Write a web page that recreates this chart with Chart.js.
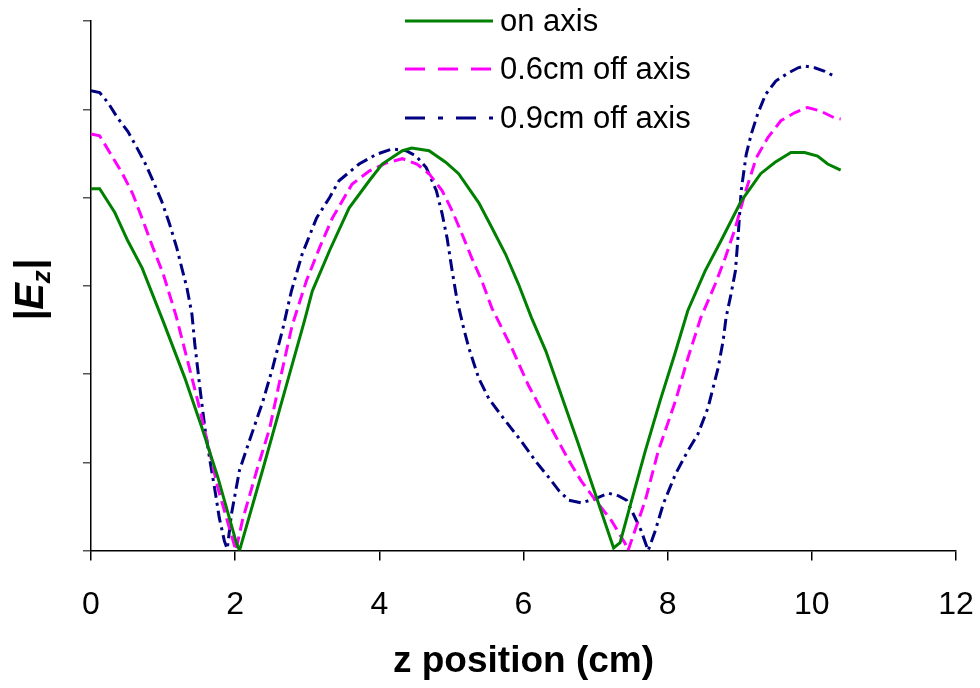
<!DOCTYPE html>
<html>
<head>
<meta charset="utf-8">
<script src="https://cdn.jsdelivr.net/npm/chart.js@4.4.1/dist/chart.umd.min.js"></script>
<style>
  body { margin: 0; background: #fff; }
  #wrap { width: 980px; height: 688px; }
</style>
</head>
<body>
<div id="wrap"><canvas id="chart" width="980" height="688"></canvas></div>
<script>
// === Data: z position (cm) and |Ez| (arbitrary units) ===
const zOnAxis = [0, 0.12, 0.33, 0.51, 0.71, 1.0, 1.3, 1.54, 1.76, 2.02, 2.06, 2.38, 2.61, 2.96, 3.07, 3.31, 3.58, 3.86, 4.04, 4.32, 4.45, 4.69, 4.92, 5.1, 5.38, 5.56, 5.75, 5.93, 6.11, 6.31, 6.76, 7.25, 7.34, 7.46, 7.69, 7.9, 8.1, 8.28, 8.52, 8.74, 9.02, 9.29, 9.49, 9.71, 9.9, 10.08, 10.22, 10.4];
const eOnAxis = [4.1, 4.1, 3.83, 3.51, 3.2, 2.6, 1.96, 1.39, 0.83, 0.08, 0.0, 0.91, 1.58, 2.6, 2.94, 3.4, 3.88, 4.19, 4.38, 4.53, 4.56, 4.53, 4.4, 4.27, 3.94, 3.66, 3.36, 3.02, 2.64, 2.26, 1.21, 0.03, 0.09, 0.45, 1.13, 1.71, 2.23, 2.72, 3.17, 3.51, 3.96, 4.27, 4.4, 4.51, 4.51, 4.47, 4.38, 4.31];

const zOff06 = [0, 0.12, 0.26, 0.43, 0.58, 0.72, 0.86, 1.0, 1.18, 1.34, 1.48, 1.62, 1.76, 1.89, 2.01, 2.1, 2.3, 2.48, 2.61, 2.79, 2.99, 3.17, 3.35, 3.62, 3.86, 4.09, 4.32, 4.52, 4.69, 4.87, 5.01, 5.13, 5.28, 5.42, 5.56, 5.7, 5.84, 6.07, 6.35, 6.63, 6.8, 7.0, 7.22, 7.41, 7.45, 7.69, 7.87, 8.11, 8.28, 8.46, 8.66, 8.8, 8.94, 9.07, 9.23, 9.39, 9.57, 9.76, 9.94, 10.12, 10.32, 10.4];
const eOff06 = [4.72, 4.7, 4.51, 4.28, 4.04, 3.74, 3.43, 3.14, 2.66, 2.15, 1.7, 1.21, 0.71, 0.34, 0.0, 0.34, 0.91, 1.39, 1.89, 2.55, 3.06, 3.43, 3.77, 4.15, 4.3, 4.39, 4.44, 4.38, 4.27, 4.08, 3.85, 3.62, 3.32, 3.06, 2.75, 2.52, 2.29, 1.87, 1.44, 1.02, 0.79, 0.57, 0.34, 0.08, 0.0, 0.57, 1.13, 1.7, 2.18, 2.64, 3.02, 3.32, 3.66, 4.04, 4.45, 4.68, 4.87, 4.96, 5.02, 4.98, 4.9, 4.89];

const zOff09 = [0, 0.12, 0.24, 0.37, 0.51, 0.64, 0.75, 0.86, 0.98, 1.09, 1.19, 1.26, 1.33, 1.4, 1.44, 1.51, 1.58, 1.65, 1.72, 1.78, 1.85, 1.89, 1.95, 2.06, 2.2, 2.38, 2.52, 2.66, 2.78, 2.93, 3.13, 3.31, 3.44, 3.72, 3.96, 4.18, 4.37, 4.51, 4.65, 4.79, 4.87, 4.94, 5.01, 5.08, 5.17, 5.24, 5.38, 5.52, 5.73, 5.96, 6.18, 6.35, 6.49, 6.63, 6.8, 7.0, 7.18, 7.32, 7.43, 7.52, 7.63, 7.73, 7.83, 7.94, 8.11, 8.28, 8.42, 8.56, 8.7, 8.77, 8.81, 8.88, 8.94, 8.98, 9.02, 9.09, 9.16, 9.25, 9.36, 9.5, 9.67, 9.81, 9.9, 10.04, 10.18, 10.32];
const eOff09 = [5.21, 5.19, 5.07, 4.9, 4.75, 4.56, 4.39, 4.19, 3.96, 3.7, 3.43, 3.2, 2.98, 2.68, 2.34, 1.85, 1.39, 1.02, 0.68, 0.37, 0.11, 0.02, 0.42, 0.91, 1.25, 1.68, 2.07, 2.51, 2.94, 3.36, 3.77, 4.0, 4.19, 4.38, 4.49, 4.55, 4.53, 4.47, 4.34, 4.08, 3.82, 3.54, 3.17, 2.83, 2.52, 2.3, 1.95, 1.72, 1.49, 1.25, 1.0, 0.83, 0.68, 0.57, 0.54, 0.59, 0.65, 0.62, 0.57, 0.42, 0.23, 0.0, 0.23, 0.53, 0.87, 1.13, 1.32, 1.62, 2.07, 2.38, 2.64, 2.91, 3.17, 3.59, 4.08, 4.49, 4.72, 4.95, 5.17, 5.32, 5.41, 5.47, 5.49, 5.47, 5.43, 5.37];

const seriesNames = ["on axis", "0.6cm off axis", "0.9cm off axis"];
const xTicks = [0, 2, 4, 6, 8, 10, 12];
const xTitle = "z position (cm)";

const FONT = '"Liberation Sans", Arial, sans-serif';

function toPoints(xs, ys) {
    return xs.map((x, i) => ({ x: x, y: ys[i] }));
}

// === Legenda a popisky os (kreslené ručně) ===
const extrasPlugin = {
    id: "extras",
    afterDraw(chart) {
        const ctx = chart.ctx;
        const area = chart.chartArea;

        // popisek osy X
        ctx.save();
        ctx.fillStyle = "#000";
        ctx.font = "bold 37px " + FONT;
        ctx.textAlign = "center";
        ctx.textBaseline = "middle";
        ctx.fillText(xTitle, (area.left + area.right) / 2, 662);
        ctx.restore();

        // |Ez| svisle
        ctx.save();
        ctx.translate(29, 290);
        ctx.rotate(-Math.PI / 2);
        ctx.fillStyle = "#000";
        ctx.textBaseline = "alphabetic";
        const big = "italic bold 40px " + FONT;
        const small = "italic bold 26px " + FONT;
        ctx.font = big;
        const w1 = ctx.measureText("|E").width;
        const w3 = ctx.measureText("|").width;
        ctx.font = small;
        const w2 = ctx.measureText("z").width;
        let x = -(w1 + w2 + w3) / 2;
        ctx.font = big;
        ctx.fillText("|E", x, 14);
        x += w1;
        ctx.font = small;
        ctx.fillText("z", x, 21);
        x += w2;
        ctx.font = big;
        ctx.fillText("|", x, 14);
        ctx.restore();

        // legenda
        const legendDash = [[], [20, 13], [20, 13, 5, 13]];
        const rowsY = [21, 69, 118];
        chart.data.datasets.forEach((ds, i) => {
            ctx.save();
            ctx.strokeStyle = ds.borderColor;
            ctx.lineWidth = 3;
            ctx.setLineDash(legendDash[i]);
            ctx.beginPath();
            ctx.moveTo(405, rowsY[i]);
            ctx.lineTo(493, rowsY[i]);
            ctx.stroke();
            ctx.fillStyle = "#000";
            ctx.font = "31px " + FONT;
            ctx.textBaseline = "middle";
            ctx.fillText(ds.label, 500, rowsY[i] + 1);
            ctx.restore();
        });
    }
};

new Chart(document.getElementById("chart"), {
    type: "line",
    data: {
        datasets: [
            {
                label: seriesNames[0],
                data: toPoints(zOnAxis, eOnAxis),
                borderColor: "#008000",
                borderWidth: 3,
                pointRadius: 0,
                fill: false
            },
            {
                label: seriesNames[1],
                data: toPoints(zOff06, eOff06),
                borderColor: "#ff00ff",
                borderWidth: 3,
                borderDash: [12, 6],
                pointRadius: 0,
                fill: false
            },
            {
                label: seriesNames[2],
                data: toPoints(zOff09, eOff09),
                borderColor: "#000080",
                borderWidth: 3,
                borderDash: [12, 5, 3, 5],
                pointRadius: 0,
                fill: false
            }
        ]
    },
    options: {
        responsive: false,
        animation: false,
        layout: { padding: { left: 83, right: 24, top: 21, bottom: 39 } },
        plugins: {
            legend: { display: false },
            tooltip: { enabled: false }
        },
        scales: {
            x: {
                type: "linear",
                min: 0,
                max: 12,
                afterBuildTicks: axis => { axis.ticks = xTicks.map(v => ({ value: v })); },
                afterFit: axis => { axis.paddingLeft = 0; axis.paddingRight = 0; },
                ticks: {
                    color: "#000",
                    font: { family: FONT, size: 32 },
                    padding: 25,
                    maxRotation: 0
                },
                grid: { drawOnChartArea: false, tickLength: 10, color: "#000", lineWidth: 1.5 },
                border: { color: "#000", width: 1.5 }
            },
            y: {
                min: 0,
                max: 6,
                ticks: { display: false, stepSize: 1 },
                grid: { drawOnChartArea: false, tickLength: 8, color: "#555", lineWidth: 1.5 },
                border: { color: "#000", width: 1.5 }
            }
        }
    },
    plugins: [extrasPlugin]
});
</script>
</body>
</html>
